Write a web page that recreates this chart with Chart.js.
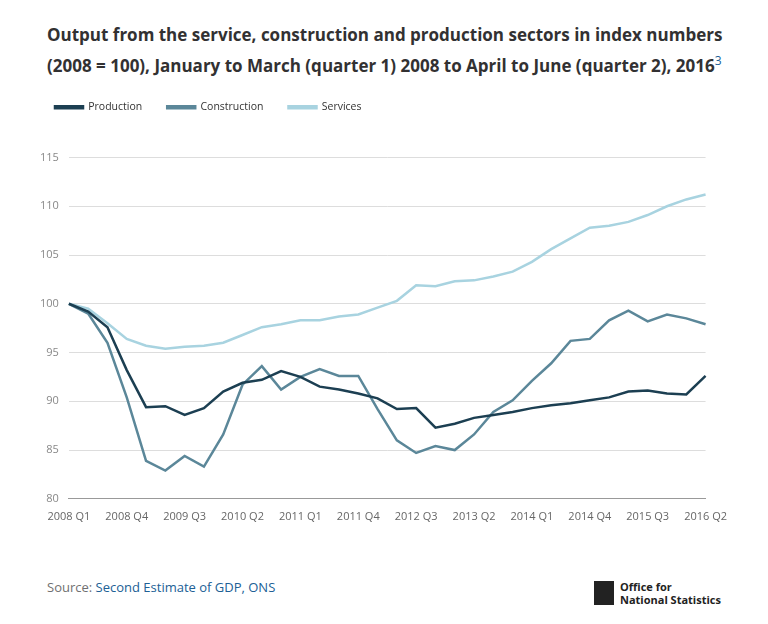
<!DOCTYPE html>
<html><head><meta charset="utf-8">
<script src="https://cdn.jsdelivr.net/npm/chart.js@4"></script>
<style>
body{margin:0;width:768px;height:624px;background:#fff;font-family:"Open Sans",sans-serif;position:relative}
#t{position:absolute;left:47px;top:22px;font-size:17px;font-weight:bold;color:#323132;line-height:26px;width:720px}
#t sup{color:#206095;font-weight:normal;font-size:12px}
#c{position:absolute;left:30px;top:77px;width:700px;height:449px}
#s{position:absolute;left:47px;top:578px;font-size:13px;color:#707071}
#s span{color:#206095}
#o{position:absolute;left:594px;top:580px;font-size:11px;font-weight:bold;color:#222;line-height:13px}
#o div{position:absolute;left:0;top:1px;width:20px;height:24px;background:#222}
#o p{margin:0 0 0 26px}
</style></head><body>
<div id="t">Output from the service, construction and production sectors in index numbers (2008 = 100), January to March (quarter 1) 2008 to April to June (quarter 2), 2016<sup>3</sup></div>
<div id="c"><canvas id="cv"></canvas></div>
<div id="s">Source: <span>Second Estimate of GDP, ONS</span></div>
<div id="o"><div></div><p>Office for<br>National Statistics</p></div>
<script>
const categories=[];for(let y=2008;y<=2016;y++)for(let q=1;q<=4;q++){if(y==2016&&q>2)break;categories.push(y+" Q"+q);}
const production=[100,99.2,97.6,93.2,89.4,89.5,88.6,89.3,91.0,91.9,92.2,93.1,92.5,91.5,91.2,90.8,90.3,89.2,89.3,87.3,87.7,88.3,88.6,88.9,89.3,89.6,89.8,90.1,90.4,91.0,91.1,90.8,90.7,92.6];
const construction=[100,99.0,96.0,90.4,83.9,82.9,84.4,83.3,86.6,91.7,93.6,91.2,92.5,93.3,92.6,92.6,89.2,86.0,84.7,85.4,85.0,86.6,88.9,90.1,92.1,93.9,96.2,96.4,98.3,99.3,98.2,98.9,98.5,97.9];
const services=[100,99.5,98.0,96.4,95.7,95.4,95.6,95.7,96.0,96.8,97.6,97.9,98.3,98.3,98.7,98.9,99.6,100.3,101.9,101.8,102.3,102.4,102.8,103.3,104.3,105.6,106.7,107.8,108.0,108.4,109.1,110.0,110.7,111.2];
const yTicks=[80,85,90,95,100,105,110,115];
const ds=(l,d,c)=>({label:l,data:d,borderColor:c,backgroundColor:c,borderWidth:2.5,pointRadius:0,tension:0});
new Chart(document.getElementById('cv'),{type:'line',
data:{labels:categories,datasets:[ds('Production',production,'#1c3f52'),ds('Construction',construction,'#5b8799'),ds('Services',services,'#a8d3e0')]},
options:{responsive:true,maintainAspectRatio:false,animation:false,
layout:{padding:{right:8}},
plugins:{legend:{align:'start',labels:{boxWidth:28,boxHeight:2,padding:25,color:'#333',font:{family:'Open Sans',size:10.5}}},tooltip:{enabled:false}},
scales:{x:{offset:false,grid:{display:false,drawTicks:true},border:{color:'#999'},ticks:{autoSkip:false,maxRotation:0,color:'#666',font:{family:'Open Sans',size:11},callback:(v,i)=>i%3==0?categories[i]:''}},
y:{min:80,max:115,afterBuildTicks:a=>{a.ticks=yTicks.map(v=>({value:v}))},grid:{color:'#ddd',drawTicks:false},border:{display:false},ticks:{padding:10,color:'#888',font:{family:'Open Sans',size:11}}}}},
plugins:[{id:'lp',beforeInit(ch){const f=ch.legend.fit;ch.legend.fit=function(){f.bind(ch.legend)();this.height+=35;};}}]});
</script></body></html>
